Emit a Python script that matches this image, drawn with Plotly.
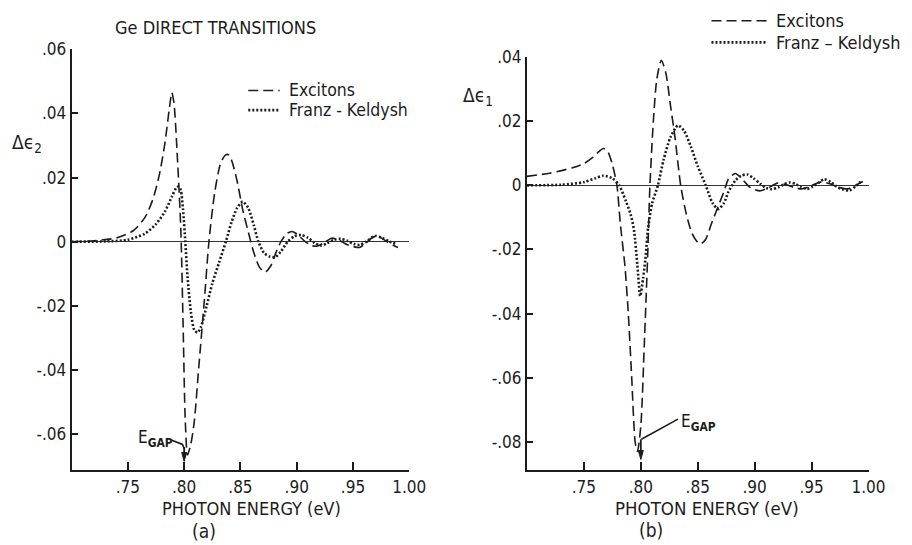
import plotly.graph_objects as go

# ---------------- data ----------------
# Panel (a): delta eps2
a_exc_x = [0.700, 0.720, 0.740, 0.755, 0.765, 0.772, 0.778, 0.783, 0.787, 0.789, 0.791, 0.794,
           0.797, 0.799, 0.801, 0.803, 0.806, 0.809, 0.813, 0.818, 0.822, 0.827, 0.832, 0.836,
           0.839, 0.842, 0.847, 0.852, 0.857, 0.862, 0.867, 0.872, 0.877, 0.882, 0.886, 0.891,
           0.896, 0.901, 0.907, 0.913, 0.918, 0.924, 0.931, 0.937, 0.944, 0.950, 0.956, 0.961,
           0.966, 0.970, 0.975, 0.981, 0.986, 0.990]
a_exc_y = [0.0000, 0.0003, 0.0012, 0.0035, 0.0075, 0.0130, 0.0210, 0.0310, 0.0420, 0.0465, 0.0430, 0.0260,
           0.0040, -0.0250, -0.0560, -0.0665, -0.0630, -0.0560, -0.0390, -0.0180, 0.0000, 0.0150, 0.0240, 0.0268,
           0.0272, 0.0255, 0.0190, 0.0100, 0.0030, -0.0035, -0.0080, -0.0095, -0.0075, -0.0030, 0.0000, 0.0025,
           0.0032, 0.0022, 0.0002, -0.0012, -0.0014, -0.0004, 0.0011, 0.0006, -0.0008, -0.0015, -0.0018, -0.0006,
           0.0010, 0.0017, 0.0012, -0.0002, -0.0012, -0.0018]

a_fk_x = [0.700, 0.730, 0.750, 0.765, 0.775, 0.783, 0.789, 0.793, 0.795, 0.797, 0.799, 0.801,
          0.803, 0.806, 0.809, 0.812, 0.815, 0.820, 0.825, 0.831, 0.837, 0.842, 0.847, 0.852,
          0.857, 0.862, 0.866, 0.871, 0.876, 0.881, 0.886, 0.892, 0.898, 0.904, 0.910, 0.916,
          0.921, 0.927, 0.933, 0.939, 0.945, 0.951, 0.956, 0.962, 0.967, 0.970, 0.976, 0.982, 0.988]
a_fk_y = [0.0000, 0.0001, 0.0006, 0.0025, 0.0055, 0.0095, 0.0140, 0.0168, 0.0172, 0.0160, 0.0100, 0.0000,
          -0.0110, -0.0220, -0.0275, -0.0283, -0.0265, -0.0200, -0.0130, -0.0065, 0.0000, 0.0060, 0.0105, 0.0125,
          0.0105, 0.0050, 0.0000, -0.0035, -0.0046, -0.0048, -0.0030, 0.0000, 0.0017, 0.0021, 0.0012, -0.0004,
          -0.0012, -0.0005, 0.0006, 0.0009, 0.0003, -0.0007, -0.0010, 0.0000, 0.0014, 0.0018, 0.0012, 0.0001, -0.0007]

# Panel (b): delta eps1
b_exc_x = [0.700, 0.720, 0.740, 0.750, 0.758, 0.763, 0.767, 0.771, 0.775, 0.779, 0.782, 0.786,
           0.789, 0.792, 0.795, 0.797, 0.800, 0.803, 0.806, 0.808, 0.811, 0.814, 0.818, 0.822,
           0.826, 0.830, 0.835, 0.840, 0.845, 0.850, 0.853, 0.857, 0.862, 0.868, 0.873, 0.877,
           0.883, 0.889, 0.895, 0.900, 0.905, 0.912, 0.920, 0.928, 0.935, 0.941, 0.948, 0.954,
           0.959, 0.966, 0.974, 0.981, 0.987, 0.995]
b_exc_y = [0.0028, 0.0038, 0.0055, 0.0068, 0.0088, 0.0105, 0.0115, 0.0105, 0.0065, 0.0000, -0.0120, -0.0250,
           -0.0400, -0.0600, -0.0800, -0.0830, -0.0750, -0.0500, -0.0220, 0.0000, 0.0200, 0.0330, 0.0390, 0.0350,
           0.0250, 0.0150, 0.0000, -0.0090, -0.0150, -0.0178, -0.0182, -0.0168, -0.0120, -0.0065, -0.0020, 0.0020,
           0.0037, 0.0020, -0.0004, -0.0013, -0.0017, -0.0008, 0.0007, 0.0002, -0.0007, -0.0011, -0.0004, 0.0006,
           0.0011, 0.0005, -0.0006, -0.0011, -0.0003, 0.0012]

b_fk_x = [0.700, 0.730, 0.750, 0.760, 0.767, 0.775, 0.781, 0.787, 0.791, 0.794, 0.797, 0.7995,
          0.802, 0.804, 0.8065, 0.810, 0.815, 0.820, 0.826, 0.8326, 0.838, 0.844, 0.850, 0.857,
          0.863, 0.868, 0.873, 0.877, 0.883, 0.888, 0.8935, 0.899, 0.905, 0.910, 0.915, 0.921,
          0.926, 0.931, 0.936, 0.941, 0.946, 0.951, 0.956, 0.961, 0.967, 0.972, 0.977, 0.983, 0.989, 0.994]
b_fk_y = [0.0000, 0.0002, 0.0010, 0.0022, 0.0030, 0.0022, 0.0000, -0.0050, -0.0090, -0.0140, -0.0250, -0.0345,
          -0.0290, -0.0230, -0.0130, -0.0055, 0.0000, 0.0080, 0.0150, 0.0187, 0.0170, 0.0120, 0.0060, 0.0000,
          -0.0055, -0.0074, -0.0055, -0.0020, 0.0015, 0.0030, 0.0034, 0.0022, 0.0005, -0.0008, -0.0012, -0.0006,
          0.0004, 0.0009, 0.0004, -0.0005, -0.0011, -0.0004, 0.0008, 0.0019, 0.0010, -0.0004, -0.0012, -0.0016, -0.0002, 0.0015]

x_tickvals = [0.75, 0.80, 0.85, 0.90, 0.95, 1.00]
x_ticktext = [".75", ".80", ".85", ".90", ".95", "1.00"]
ya_tickvals = [-0.06, -0.04, -0.02, 0.0, 0.02, 0.04, 0.06]
ya_ticktext = ["-.06", "-.04", "-.02", "0", ".02", ".04", ".06"]
yb_tickvals = [-0.08, -0.06, -0.04, -0.02, 0.0, 0.02, 0.04]
yb_ticktext = ["-.08", "-.06", "-.04", "-.02", "0", ".02", ".04"]
e_gap = 0.80

# ---------------- styling ----------------
W, H = 912, 545
FONT = "DejaVu Sans Condensed, Liberation Sans Narrow, Arial"
INK = "#1c1c1c"
DASH = "10px,5px"
DOT = "2px,2px"


def px(x):
    return x / W


def py(y):
    return 1 - y / H


fig = go.Figure()
line_dash = dict(color=INK, width=1.6, dash=DASH, shape="spline", smoothing=0.7)
line_dot = dict(color=INK, width=2.6, dash=DOT, shape="spline", smoothing=0.7)

fig.add_trace(go.Scatter(x=a_exc_x, y=a_exc_y, mode="lines", line=line_dash, name="Excitons",
                         xaxis="x", yaxis="y", showlegend=False))
fig.add_trace(go.Scatter(x=a_fk_x, y=a_fk_y, mode="lines", line=line_dot, name="Franz - Keldysh",
                         xaxis="x", yaxis="y", showlegend=False))
fig.add_trace(go.Scatter(x=b_exc_x, y=b_exc_y, mode="lines", line=line_dash, name="Excitons",
                         xaxis="x2", yaxis="y2", showlegend=False))
fig.add_trace(go.Scatter(x=b_fk_x, y=b_fk_y, mode="lines", line=line_dot, name="Franz - Keldysh",
                         xaxis="x2", yaxis="y2", showlegend=False))

tickfont = dict(family=FONT, size=17, color=INK)
xcommon = dict(range=[0.70, 1.00], tickvals=x_tickvals, ticktext=x_ticktext, showgrid=False,
               showline=True, linecolor=INK, linewidth=2, ticks="inside", ticklen=8, tickwidth=2,
               tickcolor=INK, tickfont=tickfont, zeroline=False, fixedrange=True)
ycommon = dict(showgrid=False, showline=True, linecolor=INK, linewidth=2, ticks="inside", ticklen=6,
               tickwidth=2, tickcolor=INK, tickfont=tickfont, zeroline=True, zerolinecolor="#333",
               zerolinewidth=1, fixedrange=True)

fig.update_layout(
    width=W, height=H, autosize=False,
    margin=dict(l=0, r=0, t=0, b=0),
    paper_bgcolor="white", plot_bgcolor="white",
    font=dict(family=FONT, color=INK),
    xaxis=dict(domain=[px(73), px(417)], anchor="y", **xcommon),
    yaxis=dict(domain=[py(469), py(40)], anchor="x", range=[-0.0713, 0.06],
               tickvals=ya_tickvals, ticktext=ya_ticktext, **ycommon),
    xaxis2=dict(domain=[px(537), px(885)], anchor="y2", **xcommon),
    yaxis2=dict(domain=[py(469), py(48)], anchor="x2", range=[-0.0889, 0.04],
                tickvals=yb_tickvals, ticktext=yb_ticktext, **ycommon),
)

anns = []
shapes = []


def text(x, y, s, size=16, xanchor="center"):
    anns.append(dict(x=px(x), y=py(y), xref="paper", yref="paper", text=s, showarrow=False,
                     xanchor=xanchor, yanchor="middle", borderpad=0,
                     font=dict(family=FONT, size=size, color=INK)))


# titles and labels
text(220, 18, "Ge DIRECT TRANSITIONS", 18)
text(28, 136, "Δϵ<sub>2</sub>", 19)
text(487, 88, "Δϵ<sub>1</sub>", 19)
text(256, 508, "PHOTON ENERGY (eV)", 18)
text(208, 531, "(a)", 19)
text(720, 508, "PHOTON ENERGY (eV)", 18.5)
text(663, 530, "(b)", 19)


# manual legends
def legend_item(x0, x1, y, dash, width, label, size):
    shapes.append(dict(type="line", xref="paper", yref="paper", x0=px(x0), x1=px(x1), y0=py(y), y1=py(y),
                       line=dict(color=INK, width=width, dash=dash)))
    text(x1 + 8, y, label, size, xanchor="left")


legend_item(253, 285, 82, DASH, 1.6, "Excitons", 17.5)
legend_item(253, 285, 102, DOT, 2.6, "Franz - Keldysh", 17.5)
legend_item(725, 782, 11, DASH, 1.6, "Excitons", 18)
legend_item(725, 782, 33, DOT, 2.6, "Franz – Keldysh", 18)


# E_GAP markers (arrow drawn with shapes)
def arrow_down(xref, yref, x, y_top, y_tip, head_h, head_hw):
    shapes.append(dict(type="line", xref=xref, yref=yref, x0=x, x1=x, y0=y_top, y1=y_tip + head_h,
                       line=dict(color=INK, width=1.8)))
    shapes.append(dict(type="path", xref=xref, yref=yref,
                       path=f"M {x - head_hw} {y_tip + head_h} L {x + head_hw} {y_tip + head_h} L {x} {y_tip} Z",
                       fillcolor=INK, line=dict(color=INK, width=1)))


arrow_down("x", "y", e_gap, -0.0640, -0.0685, 0.0028, 0.0022)
shapes.append(dict(type="path", xref="x", yref="y",
                   path="M 0.7885 -0.0618 L 0.7985 -0.0632 L 0.8000 -0.0645",
                   line=dict(color=INK, width=1.6)))
anns.append(dict(x=0.7745, y=-0.0615, xref="x", yref="y", text="E<sub><b>GAP</b></sub>", showarrow=False,
                 xanchor="center", yanchor="middle", font=dict(family=FONT, size=17, color=INK)))

arrow_down("x2", "y2", e_gap, -0.0792, -0.0855, 0.0028, 0.0022)
shapes.append(dict(type="line", xref="x2", yref="y2", x0=0.8005, y0=-0.0792, x1=0.8326, y1=-0.0729,
                   line=dict(color=INK, width=1.6)))
anns.append(dict(x=0.8333, y=-0.0740, xref="x2", yref="y2", text="E<sub><b>GAP</b></sub>", showarrow=False,
                 xanchor="left", yanchor="middle", font=dict(family=FONT, size=17, color=INK)))

fig.update_layout(annotations=anns, shapes=shapes)
fig.write_html("out.html")
